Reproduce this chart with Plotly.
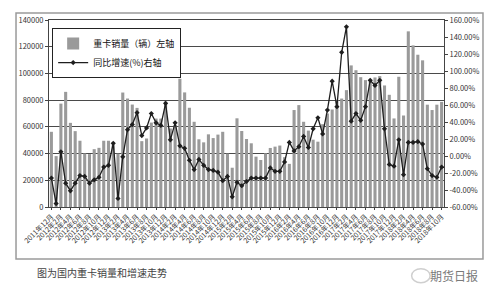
import plotly.graph_objects as go

# ---- data ----
start_year, start_month, n_months = 2011, 12, 83
months = []
y, m = start_year, start_month
for _ in range(n_months):
    months.append(f"{y}年{m}月")
    m += 1
    if m > 12:
        m = 1
        y += 1

tick_labels = months[::2]

sales = [
    56300, 38100, 77400, 86200, 63000, 56800, 49600, 40100, 39600, 43300,
    44300, 49600, 49600, 47600, 40000, 85700, 81200, 76700, 74200, 49300,
    51300, 63200, 66200, 66200, 79000, 58800, 61300, 96000, 85800, 74300,
    63800, 50700, 48400, 54400, 51600, 54200, 56300, 40000, 29400, 66400,
    56900, 50900, 47700, 37700, 35200, 40200, 44200, 45200, 46000, 37300,
    32300, 72600, 76300, 63800, 57200, 50400, 48900, 62000, 70000, 73000,
    80000, 81200, 87500, 106000, 102400, 97200, 95000, 93800, 97000, 98000,
    91000, 84000, 66300, 97500, 68500, 131500, 121000, 114000, 109800, 76600,
    72600, 76600, 78700,
]

growth = [
    -26, -56, 5, -32, -41, -32, -23, -24, -32, -28,
    -25, -13, -11, 15, -50, -1, 31, 37, 51, 24,
    33, 50, 39, 36, 62, 19, 39, 12, 9, -5,
    -16, -4, -11, -16, -17, -19, -29, -24, -48, -31,
    -35, -30, -26, -26, -26, -26, -14, -18, -18, -7,
    16, 6, 11, 23, 10, 32, 45, 26, 54, 88,
    58, 122, 152, 41, 50, 42, 58, 89, 83, 89,
    32, -10, -12, 19, -22, 16, 16, 17, 14, -15,
    -23, -25, -13,
]

left_ticks = [0, 20000, 40000, 60000, 80000, 100000, 120000, 140000]
right_ticks = [-60, -40, -20, 0, 20, 40, 60, 80, 100, 120, 140, 160]
right_text = [f"{v:.2f}%" for v in right_ticks]

FONT = "Noto Sans CJK SC"

fig = go.Figure()
fig.add_trace(go.Bar(
    x=months, y=sales, name="重卡销量（辆）左轴",
    marker=dict(color="#9a9a9a", line=dict(width=0)),
    yaxis="y",
))
fig.add_trace(go.Scatter(
    x=months, y=growth, name="同比增速(%)右轴",
    mode="lines+markers",
    line=dict(color="#1e1e1e", width=1.3),
    marker=dict(symbol="diamond", size=4, color="#1e1e1e"),
    yaxis="y2",
))

fig.update_layout(
    width=500, height=298,
    margin=dict(l=49, r=56, t=20, b=91),
    paper_bgcolor="white", plot_bgcolor="white",
    font=dict(family=FONT, color="#333"),
    bargap=0.35,
    showlegend=True,
    legend=dict(
        x=0.008, y=0.957, xanchor="left", yanchor="top",
        bgcolor="white", bordercolor="#222", borderwidth=1,
        font=dict(size=9, color="#111", family=FONT),
        tracegroupgap=0, itemwidth=30,
    ),
    xaxis=dict(
        type="category", range=[-0.5, n_months - 0.5],
        tickmode="array", tickvals=tick_labels, ticktext=tick_labels,
        tickangle=-45, tickfont=dict(size=7, color="#333"),
        showline=True, linecolor="#444", linewidth=1, mirror=True,
        ticks="outside", ticklen=2, tickcolor="#444",
        showgrid=False,
    ),
    yaxis=dict(
        range=[0, 140000], tickmode="array", tickvals=left_ticks,
        ticktext=[str(v) for v in left_ticks],
        tickfont=dict(size=7.5, color="#333"),
        showline=True, linecolor="#444", linewidth=1,
        ticks="outside", ticklen=3, tickcolor="#444",
        showgrid=True, gridcolor="#4a4a4a", gridwidth=1,
        zeroline=False,
    ),
    yaxis2=dict(
        range=[-60, 160], overlaying="y", side="right",
        tickmode="array", tickvals=right_ticks, ticktext=right_text,
        tickfont=dict(size=7.5, color="#333"),
        showline=True, linecolor="#444", linewidth=1,
        ticks="outside", ticklen=3, tickcolor="#444",
        showgrid=False, zeroline=False,
    ),
    shapes=[
        dict(type="rect", xref="paper", yref="paper",
             x0=-0.0835, x1=1.0987, y0=-0.278, y1=1.0374,
             line=dict(color="#9a9a9a", width=1.5), fillcolor="rgba(0,0,0,0)",
             layer="below"),
        dict(type="circle", xref="paper", yref="paper",
             x0=0.918, x1=0.965, y0=-0.405, y1=-0.33,
             line=dict(color="#cfcfcf", width=1.5), fillcolor="rgba(0,0,0,0)"),
    ],
    annotations=[
        dict(text="图为国内重卡销量和增速走势", xref="paper", yref="paper",
             x=-0.036, y=-0.352, xanchor="left", yanchor="middle",
             showarrow=False, font=dict(size=10, color="#444", family=FONT)),
        dict(text="期货日报", xref="paper", yref="paper",
             x=1.09, y=-0.368, xanchor="right", yanchor="middle",
             showarrow=False, font=dict(size=12, color="#7a7a7a", family=FONT)),
    ],
)

fig.write_html("out.html")
